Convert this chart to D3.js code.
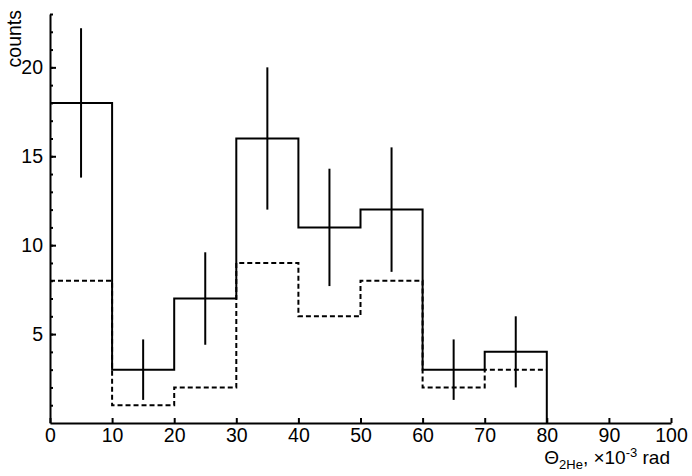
<!DOCTYPE html>
<html>
<head>
<meta charset="utf-8">
<script src="https://cdn.jsdelivr.net/npm/d3@7"></script>
<style>
  body { margin: 0; background: #fff; }
  svg text { font-family: "Liberation Sans", Arial, sans-serif; fill: #000; }
  .axis path, .axis line { stroke: #000; }
</style>
</head>
<body>
<svg id="chart" width="692" height="476"></svg>
<script>
// bin edges (x 10^-3 rad) and contents
const binStarts = [0, 10, 20, 30, 40, 50, 60, 70];
const binWidth = 10;
const counts = [18, 3, 7, 16, 11, 12, 3, 4];
const errors = [4.2, 1.7, 2.6, 4.0, 3.3, 3.5, 1.7, 2.0];
const dashedCounts = [8, 1, 2, 9, 6, 8, 2, 3];
const xTicks = [0, 10, 20, 30, 40, 50, 60, 70, 80, 90, 100];
const yMajorTicks = [5, 10, 15, 20];
const yMinorTicks = d3.range(1, 24);

const svg = d3.select('#chart');
const x = d3.scaleLinear().domain([0, 100]).range([50, 671]);
const y = d3.scaleLinear().domain([0, 23]).range([423, 14]);

// x axis, ticks pointing up
svg.append('g')
  .attr('class', 'axis')
  .attr('transform', `translate(0, ${y(0)})`)
  .call(d3.axisBottom(x).tickValues(xTicks).tickSizeInner(-5).tickSizeOuter(0).tickPadding(5))
  .call(g => g.selectAll('path, line').attr('stroke-width', 2))
  .call(g => g.selectAll('text').attr('font-size', 19.5));

// y axis minor ticks
svg.append('g')
  .attr('class', 'axis')
  .attr('transform', `translate(${x(0)}, 0)`)
  .call(d3.axisLeft(y).tickValues(yMinorTicks).tickSizeInner(-3).tickSizeOuter(0).tickFormat(''))
  .call(g => g.selectAll('path, line').attr('stroke-width', 2));

// y axis major ticks + labels
svg.append('g')
  .attr('class', 'axis')
  .attr('transform', `translate(${x(0)}, 0)`)
  .call(d3.axisLeft(y).tickValues(yMajorTicks).tickSizeInner(-6).tickSizeOuter(0).tickPadding(7))
  .call(g => g.select('.domain').remove())
  .call(g => g.selectAll('line').attr('stroke-width', 2))
  .call(g => g.selectAll('text').attr('font-size', 19.5));

const step = d3.line()
  .x(d => x(d[0]))
  .y(d => y(d[1]))
  .curve(d3.curveStepAfter);

const last = binStarts.length - 1;
const solidPts = binStarts.map((b, i) => [b, counts[i]])
  .concat([[binStarts[last] + binWidth, counts[last]], [binStarts[last] + binWidth, 0]]);
const dashedPts = binStarts.map((b, i) => [b, dashedCounts[i]])
  .concat([[binStarts[last] + binWidth, dashedCounts[last]]]);

svg.append('path')
  .datum(dashedPts)
  .attr('d', step)
  .attr('fill', 'none')
  .attr('stroke', '#000')
  .attr('stroke-width', 2)
  .attr('stroke-dasharray', '5,3');

svg.append('path')
  .datum(solidPts)
  .attr('d', step)
  .attr('fill', 'none')
  .attr('stroke', '#000')
  .attr('stroke-width', 2);

// error bars at bin centres
svg.append('g').selectAll('line')
  .data(binStarts)
  .join('line')
  .attr('x1', (b) => x(b + binWidth / 2))
  .attr('x2', (b) => x(b + binWidth / 2))
  .attr('y1', (b, i) => y(counts[i] + errors[i]))
  .attr('y2', (b, i) => y(counts[i] - errors[i]))
  .attr('stroke', '#000')
  .attr('stroke-width', 2);

// axis titles
svg.append('text')
  .attr('transform', 'translate(21, 10) rotate(-90)')
  .attr('text-anchor', 'end')
  .attr('font-size', 19.5)
  .text('counts');

const xl = svg.append('text')
  .attr('x', 670)
  .attr('y', 464)
  .attr('text-anchor', 'end')
  .attr('font-size', 19);
xl.append('tspan').text('\u0398');
xl.append('tspan').attr('font-size', 13).attr('dy', 5).text('2He');
xl.append('tspan').attr('dy', -5).text(', \u00d710');
xl.append('tspan').attr('font-size', 13).attr('dy', -7).text('-3');
xl.append('tspan').attr('dy', 7).text(' rad');
</script>
</body>
</html>
